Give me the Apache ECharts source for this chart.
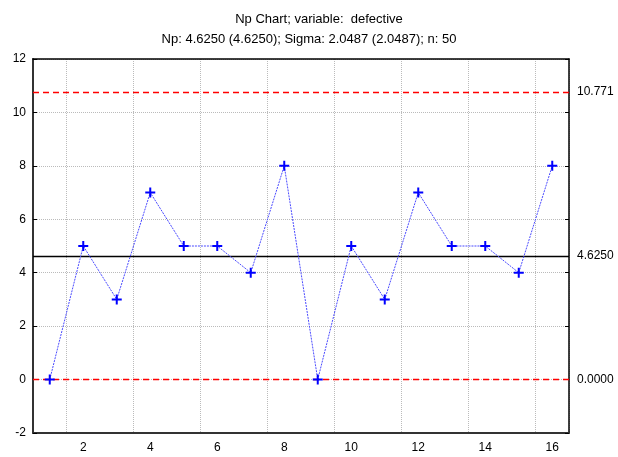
<!DOCTYPE html>
<html><head><meta charset="utf-8">
<script src="https://cdn.jsdelivr.net/npm/echarts@6/dist/echarts.min.js"></script>
<style>html,body{margin:0;padding:0;background:#fff}#c{width:618px;height:457px}</style>
</head><body><div id="c"></div>
<script>
const titleLine1 = "Np Chart; variable:  defective";
const titleLine2 = "Np: 4.6250 (4.6250); Sigma: 2.0487 (2.0487); n: 50";
const samples = ["1","2","3","4","5","6","7","8","9","10","11","12","13","14","15","16"];
const defective = [0,5,3,7,5,5,4,8,0,5,3,7,5,5,4,8];
const centerLine = 4.625;
const ucl = 10.771;
const lcl = 0;
const centerLabel = "4.6250";
const uclLabel = "10.771";
const lclLabel = "0.0000";

const evenIdx = (i) => i % 2 === 1;
const chart = echarts.init(document.getElementById('c'));
const font = 'Liberation Sans, Arial, sans-serif';
chart.setOption({
  animation: false,
  title: [
    {text: titleLine1, left: 314, top: 8, textAlign: 'center', textStyle: {fontSize: 13, fontWeight: 'normal', color: '#000', fontFamily: font}},
    {text: titleLine2, left: 304, top: 28, textAlign: 'center', textStyle: {fontSize: 13, fontWeight: 'normal', color: '#000', fontFamily: font}}
  ],
  grid: {left: 33, right: 49, top: 59, bottom: 24, containLabel: false, show: false},
  xAxis: [{
    type: 'category', data: samples, boundaryGap: true,
    axisLine: {onZero: false, lineStyle: {color: '#333', width: 2}},
    axisTick: {inside: true, length: 4, interval: evenIdx, alignWithLabel: true, lineStyle: {color: '#000'}},
    axisLabel: {interval: evenIdx, color: '#000', fontSize: 12, fontFamily: font, margin: 9},
    splitLine: {show: true, interval: evenIdx, lineStyle: {color: '#bbb', type: [1, 1], width: 1}}
  }, {
    type: 'category', data: samples, boundaryGap: true, position: 'top',
    axisLine: {onZero: false, lineStyle: {color: '#000', width: 1.5}},
    axisTick: {inside: true, length: 3, interval: evenIdx, alignWithLabel: true, lineStyle: {color: '#000'}},
    axisLabel: {show: false}, splitLine: {show: false}
  }],
  yAxis: [{
    type: 'value', min: -2, max: 12, interval: 2,
    axisLine: {show: true, onZero: false, lineStyle: {color: '#333', width: 2}},
    axisTick: {show: true, inside: true, length: 4, lineStyle: {color: '#000'}},
    axisLabel: {color: '#000', fontSize: 12, fontFamily: font, margin: 7},
    splitLine: {show: true, lineStyle: {color: '#bbb', type: [1, 1], width: 1}}
  }, {
    type: 'value', min: -2, max: 12, interval: 2, position: 'right',
    axisLine: {show: true, onZero: false, lineStyle: {color: '#000', width: 1.5}},
    axisTick: {show: true, inside: true, length: 4, lineStyle: {color: '#000'}},
    axisLabel: {show: false}, splitLine: {show: false}
  }],
  series: [{
    type: 'line', data: defective, xAxisIndex: 0, yAxisIndex: 0,
    symbol: 'path://M4,0H6V4H10V6H6V10H4V6H0V4H4Z', symbolSize: 10,
    itemStyle: {color: '#0000ff'},
    lineStyle: {color: '#4a4aff', width: 1, type: [2, 1]},
    markLine: {
      silent: true, symbol: 'none',
      label: {position: 'end', color: '#000', fontSize: 12, fontFamily: font, distance: 8},
      data: [
        {yAxis: ucl, label: {formatter: uclLabel}, lineStyle: {color: '#ff0000', type: [6, 4], width: 1.3}},
        {yAxis: centerLine, label: {formatter: centerLabel}, lineStyle: {color: '#000', type: 'solid', width: 1.3}},
        {yAxis: lcl, label: {formatter: lclLabel}, lineStyle: {color: '#ff0000', type: [6, 4], width: 1.3}}
      ]
    },
    z: 5
  }]
});
</script></body></html>
